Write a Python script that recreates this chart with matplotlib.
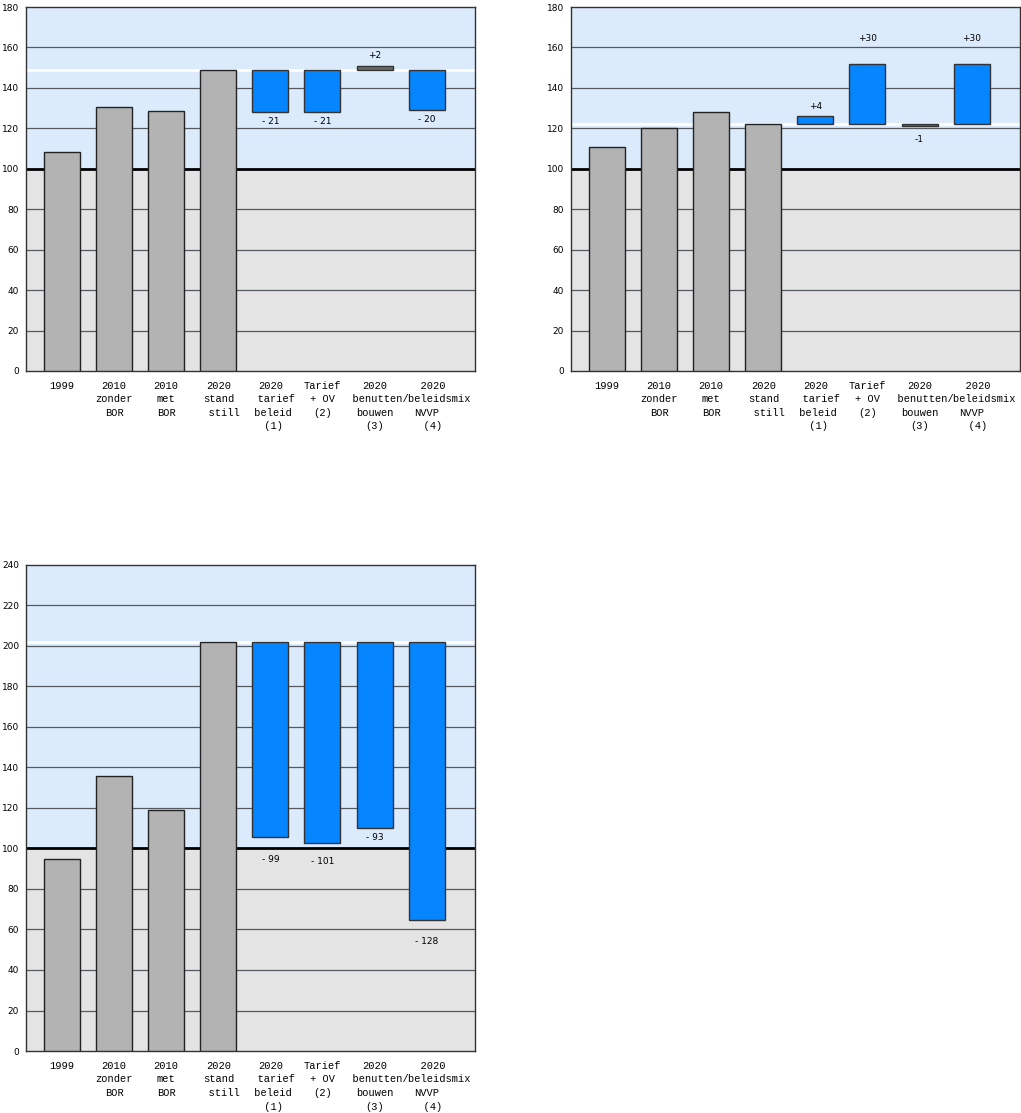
import numpy as np
import matplotlib.pyplot as plt

# categories (x labels), shared by the three panels
categories = ["1999", "2010\nzonder\nBOR", "2010\nmet\nBOR", "2020\nstand\n  still",
              "2020\n  tarief\n beleid\n (1)", "Tarief\n+ OV\n(2)",
              "2020\n  benutten/\nbouwen\n(3)", "  2020\n    beleidsmix\nNVVP\n  (4)"]

# panel 1 (top left)
base_a = [108.5, 130.7, 128.7, 149]
ends_a = [128, 128, 151, 129]
labels_a = ["- 21", "- 21", "+2", "- 20"]

# panel 2 (top right)
base_b = [111, 120, 128, 122]
ends_b = [126, 152, 121, 152]
labels_b = ["+4", "+30", "-1", "+30"]

# panel 3 (bottom)
base_c = [95, 136, 119, 202]
ends_c = [105.6, 102.5, 110, 64.8]
labels_c = ["- 99", "- 101", "- 93", "- 128"]

GREY = "#b3b3b3"
BLUE = "#0585ff"
DARK = "#6a6a6a"


def draw_panel(ax, base, ends, labels, colors, offsets, ymax):
    ax.set_xlim(-0.69, 7.93)
    ax.set_ylim(0, ymax)
    ax.axhspan(0, 100, color="#e4e4e4", zorder=0)
    ax.axhspan(100, ymax, color="#dbebfc", zorder=0)
    for y in range(20, ymax, 20):
        if y != 100:
            ax.axhline(y, color="#555a60", lw=0.9, zorder=1)
    ax.axhline(100, color="black", lw=2, zorder=1)
    stand = base[-1]
    ax.axhline(stand, color="white", lw=2, zorder=2)

    x = np.arange(len(categories))
    ax.bar(x[:4], base, width=0.69, color=GREY, edgecolor="#222222", lw=1, zorder=3)
    heights = [e - stand for e in ends]
    ax.bar(x[4:], heights, bottom=stand, width=0.69, color=colors,
           edgecolor="#333333", lw=1, zorder=3)
    for xi, e, h, lab, off in zip(x[4:], ends, heights, labels, offsets):
        sign = 1 if h > 0 else -1
        ax.annotate(lab, (xi, e), xytext=(0, sign * off), textcoords="offset points",
                    ha="center", va="center", fontsize=6.5, family="DejaVu Sans")

    ax.set_yticks(range(0, ymax + 1, 20))
    ax.set_xticks(x)
    ax.tick_params(length=0)
    ax.tick_params(axis="x", pad=7)
    ax.tick_params(axis="y", pad=5, labelsize=6.5)
    ax.set_xticklabels(categories, family="Liberation Mono", fontsize=7.5,
                       linespacing=1.45, va="top")
    for s in ax.spines.values():
        s.set_color("#333333")
        s.set_linewidth(1)


fig = plt.figure(figsize=(10.21, 11.13), dpi=100)
ax1 = fig.add_axes([0.0255, 0.6667, 0.4398, 0.327])
ax2 = fig.add_axes([0.5593, 0.6667, 0.4398, 0.327])
ax3 = fig.add_axes([0.0255, 0.0557, 0.4398, 0.4367])

draw_panel(ax1, base_a, ends_a, labels_a, [BLUE, BLUE, DARK, BLUE],
           [7, 7, 7, 7], 180)
draw_panel(ax2, base_b, ends_b, labels_b, [BLUE, BLUE, DARK, BLUE],
           [7, 18, 9.5, 18], 180)
draw_panel(ax3, base_c, ends_c, labels_c, [BLUE, BLUE, BLUE, BLUE],
           [16, 13, 7, 16], 240)

fig.savefig("out.png", dpi=100)
